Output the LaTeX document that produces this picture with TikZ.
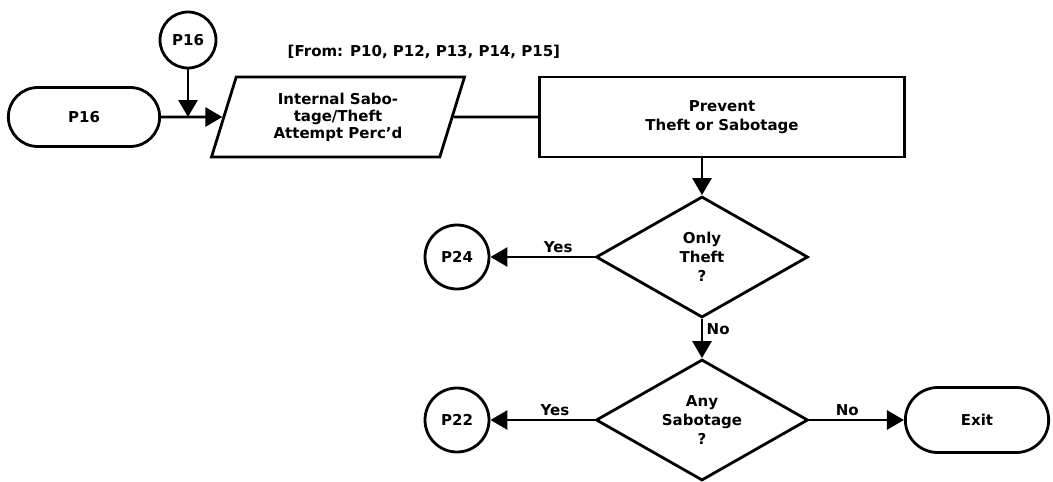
\documentclass[tikz,border=0pt]{standalone}
\usepackage{fontspec}
\setmainfont{DejaVu Sans}
\usetikzlibrary{arrows.meta,shapes.geometric,shapes.misc}

\begin{document}
\begin{tikzpicture}[x=1pt,y=1pt,>={Triangle[length=17pt,width=19pt]},line width=2.8pt,node distance=245pt,
	every node/.style={font=\bfseries\fontsize{15}{19}\selectfont,align=center},
	term/.style={draw,rounded rectangle,minimum width=158pt,minimum height=59pt},
	conn/.style={draw,circle,minimum size=64pt,inner sep=0pt},
	io/.style={draw,trapezium,trapezium left angle=63,trapezium right angle=117,trapezium stretches body,minimum width=253pt,minimum height=80pt,inner sep=0pt,font=\bfseries\fontsize{15}{17}\selectfont},
	proc/.style={draw,rectangle,minimum width=365pt,minimum height=80pt},
	dec/.style={draw,diamond,aspect=1.75,minimum width=212pt,minimum height=121pt,inner sep=0pt}]

\useasboundingbox (0,0) rectangle (1053,-482);

\node[term]   (p16)      at (84,-117)      	{P16};
 \node[conn,minimum size=56pt] 	  (c16) at (188,-40)  	{P16};
	\node[io]   (perc) [right of=p16,node distance=254pt]      	{Internal Sabo-\\tage/Theft\\Attempt Perc'd};
	\node[anchor=west] (from) at (283,-52) {[From: P10, P12, P13, P14, P15]};
	\node[proc]   (prev) [right of=perc,node distance=384pt]      	{Prevent\\Theft or Sabotage};
	\node[dec]   (d1) at (702,-257)      	{Only\\Theft\\?};
	\node[conn]   (c24) [left of=d1]      	{P24};
	\node[dec]   (d2) [below of=d1,node distance=163pt]      	{Any\\Sabotage\\?};
	\node[conn]   (c22) [left of=d2]      	{P22};
	\node[term,minimum width=150pt,minimum height=65pt]   (exit) [right of=d2,node distance=275pt]      	{Exit};

	\path[->] (p16)  edge	  	(perc)
							
					(c16) edge  (c16 |- p16)
	
					(prev.south -| d1.north) edge (d1)
	
					(d1) edge  node[above,pos=.35]{Yes} 		 	(c24)
							edge  node[right,pos=.25]{No} 		 	(d2)
							
						(d2) edge  node[above,pos=.38]{Yes} 		 	(c22)
							edge  node[above,pos=.4]{No} 		 	(exit);
	
	\path (perc) edge (prev);
				
\end{tikzpicture}
\end{document}
